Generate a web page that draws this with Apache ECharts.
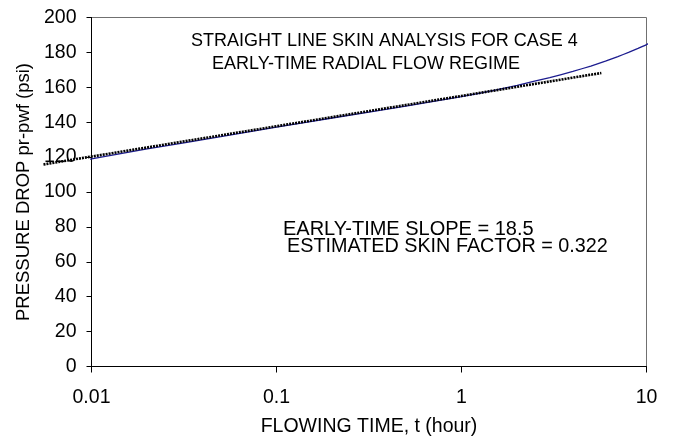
<!DOCTYPE html>
<html>
<head>
<meta charset="utf-8">
<script src="https://cdn.jsdelivr.net/npm/echarts@6/dist/echarts.min.js"></script>
<style>
  html, body { margin: 0; padding: 0; background: #ffffff; }
  #chart { width: 675px; height: 444px; }
</style>
</head>
<body>
<div id="chart"></div>
<script>
// Measured pressure drop vs flowing time (hours)
const timeHours = [0.0096, 0.01, 0.02, 0.05, 0.1, 0.2, 0.5, 1, 1.5, 2, 3, 4, 5, 6, 7, 8, 9, 10, 10.4];
const pressureDrop = [118.7, 119.0, 124.7, 131.7, 137.2, 142.4, 149.2, 154.6, 158.2, 161.1, 165.6, 169.1, 172.2, 175.0, 177.6, 180.0, 182.3, 184.5, 185.6];

// Early-time straight-line fit (end points)
const fitTime = [0.0055, 5.7];
const fitPressure = [115.8, 168.2];

// Axis ticks
const xTickValues = [0.01, 0.1, 1, 10];
const xTickLabels = ['0.01', '0.1', '1', '10'];
const yMin = 0, yMax = 200, yStep = 20;

const FONT = '"Liberation Sans", Arial, sans-serif';

const measured = timeHours.map((t, i) => [t, pressureDrop[i]]);
const fitLine = fitTime.map((t, i) => [t, fitPressure[i]]);

// Plot box geometry; the fit line is drawn on a hidden companion grid
// that extends further left so the line can run past the y axis.
const plotLeft = 91.5, plotRight = 28.5, plotTop = 17.5, plotBottom = 77.5;
const decadePx = (675 - plotLeft - plotRight) / 3;
const extLeft = 30;
const extMin = 0.01 * Math.pow(10, -(plotLeft - extLeft) / decadePx);

const chart = echarts.init(document.getElementById('chart'), null, { renderer: 'canvas' });

chart.setOption({
  backgroundColor: '#ffffff',
  animation: false,
  grid: [
    {
      left: plotLeft, right: plotRight, top: plotTop, bottom: plotBottom,
      show: true, borderColor: '#707070', borderWidth: 1, backgroundColor: 'transparent'
    },
    { left: extLeft, right: plotRight, top: plotTop, bottom: plotBottom, show: false }
  ],
  xAxis: [
    {
      type: 'log', logBase: 10, min: 0.01, max: 10, gridIndex: 0,
      name: 'FLOWING TIME, t (hour)', nameLocation: 'middle', nameGap: 50,
      nameTextStyle: { fontFamily: FONT, fontSize: 19.5, color: '#000' },
      axisLine: { show: true, onZero: false, lineStyle: { color: '#000', width: 1 } },
      axisTick: { show: true, inside: false, length: 6, lineStyle: { color: '#000' } },
      minorTick: { show: false }, splitLine: { show: false },
      axisLabel: {
        fontFamily: FONT, fontSize: 19.5, color: '#000', margin: 21,
        formatter: function (v) {
          const idx = xTickValues.findIndex(x => Math.abs(Math.log10(x) - Math.log10(v)) < 1e-6);
          return idx >= 0 ? xTickLabels[idx] : '';
        }
      }
    },
    { type: 'log', logBase: 10, min: extMin, max: 10, gridIndex: 1, show: false }
  ],
  yAxis: [
    {
      type: 'value', min: yMin, max: yMax, interval: yStep, gridIndex: 0,
      name: 'PRESSURE DROP pr-pwf (psi)', nameLocation: 'middle', nameGap: 56, nameRotate: 90,
      nameTextStyle: { fontFamily: FONT, fontSize: 18.5, color: '#000' },
      axisLine: { show: true, lineStyle: { color: '#000', width: 1 } },
      axisTick: { show: true, inside: false, length: 5, lineStyle: { color: '#000' } },
      splitLine: { show: false },
      axisLabel: { fontFamily: FONT, fontSize: 19.5, color: '#000', margin: 15 }
    },
    { type: 'value', min: yMin, max: yMax, interval: yStep, gridIndex: 1, show: false }
  ],
  graphic: [
    { type: 'text', left: 191, top: 32, style: { text: 'STRAIGHT LINE SKIN ANALYSIS FOR CASE 4', font: '18px ' + FONT, fill: '#000' } },
    { type: 'text', left: 212, top: 55, style: { text: 'EARLY-TIME RADIAL FLOW REGIME', font: '18px ' + FONT, fill: '#000' } },
    { type: 'text', left: 283, top: 219, style: { text: 'EARLY-TIME SLOPE = 18.5', font: '20px ' + FONT, fill: '#000' } },
    { type: 'text', left: 287, top: 237, style: { text: 'ESTIMATED SKIN FACTOR = 0.322', font: '19.8px ' + FONT, fill: '#000' } }
  ],
  series: [
    {
      name: 'Measured', type: 'line', xAxisIndex: 0, yAxisIndex: 0, data: measured,
      smooth: 0.15, showSymbol: false, clip: false,
      lineStyle: { color: '#1c1c8f', width: 1.3 }, z: 2
    },
    {
      name: 'Early-time fit', type: 'line', xAxisIndex: 1, yAxisIndex: 1, data: fitLine,
      showSymbol: false, clip: false,
      lineStyle: { color: '#000', width: 2.6, type: [2, 1] }, z: 3
    }
  ]
});
</script>
</body>
</html>
